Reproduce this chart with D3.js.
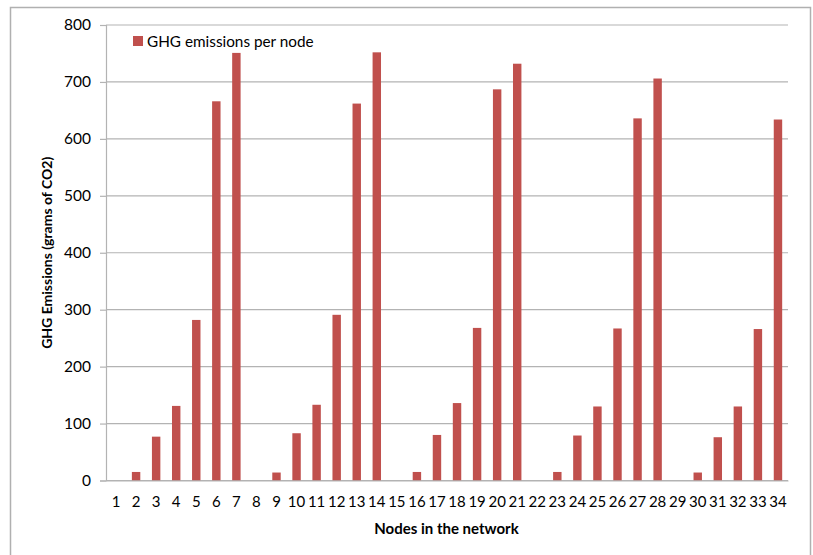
<!DOCTYPE html>
<html>
<head>
<meta charset="utf-8">
<script src="https://cdn.jsdelivr.net/npm/d3@7"></script>
<style>
  html, body { margin: 0; padding: 0; background: #fff; }
  svg { display: block; }
  text { font-family: Lato, "Noto Sans", sans-serif; fill: #000; }
</style>
</head>
<body>
<svg id="chart" width="813" height="555"></svg>
<script>
// GHG emissions for each node (grams of CO2)
const nodes = d3.range(1, 35).map(String);
const emissions = [
  0, 15, 77, 131, 282, 666, 751,
  0, 14, 83, 133, 291, 662, 752,
  0, 15, 80, 136, 268, 687, 732,
  0, 15, 79, 130, 267, 636, 706,
  0, 14, 76, 130, 266, 634
];
const yTicks = [0, 100, 200, 300, 400, 500, 600, 700, 800];
const seriesName = "GHG emissions per node";
const xTitle = "Nodes in the network";
const yTitle = "GHG Emissions (grams of CO2)";

const svg = d3.select("#chart");
const plot = { left: 106, right: 788, top: 25, bottom: 480.5 };
const barColor = "#c0504d";
const gridColor = "#b3b3b3";

// Chart frame
svg.append("rect")
  .attr("x", 10.5).attr("y", 7.5)
  .attr("width", 800).attr("height", 600)
  .attr("fill", "none").attr("stroke", "#b0b0b0").attr("stroke-width", 1.5);

const x = d3.scaleBand().domain(nodes).range([plot.left, plot.right]).paddingInner(0.58).paddingOuter(0.29);
const y = d3.scaleLinear().domain([0, 800]).range([plot.bottom, plot.top]);

// Horizontal gridlines
svg.append("g")
  .selectAll("line")
  .data(yTicks)
  .join("line")
  .attr("x1", plot.left).attr("x2", plot.right)
  .attr("y1", d => y(d)).attr("y2", d => y(d))
  .attr("stroke", gridColor).attr("stroke-width", 1.2);

// Y axis
const yAxis = svg.append("g")
  .attr("transform", `translate(${plot.left},0)`)
  .call(d3.axisLeft(y).tickValues(yTicks).tickSize(6).tickPadding(9));
yAxis.select(".domain").attr("stroke", gridColor).attr("stroke-width", 1.2);
yAxis.selectAll(".tick line").attr("stroke", gridColor).attr("stroke-width", 1.2);
yAxis.selectAll(".tick text").attr("font-size", 15.5).attr("font-family", "Lato, sans-serif").attr("fill", "#000");

// Bars
svg.append("g")
  .selectAll("rect")
  .data(emissions)
  .join("rect")
  .attr("x", (d, i) => x(nodes[i]))
  .attr("width", x.bandwidth())
  .attr("y", d => y(d))
  .attr("height", d => y(0) - y(d))
  .attr("fill", barColor);

// X axis
const xAxis = svg.append("g")
  .attr("transform", `translate(0,${plot.bottom})`)
  .call(d3.axisBottom(x).tickSize(0).tickPadding(16));
xAxis.select(".domain").attr("stroke", gridColor).attr("stroke-width", 1.2);
xAxis.selectAll(".tick text").attr("font-size", 15).attr("font-family", "Lato, sans-serif").attr("fill", "#000");

// Axis titles
svg.append("text")
  .attr("x", (plot.left + plot.right) / 2 - 0.5)
  .attr("y", 534)
  .attr("text-anchor", "middle")
  .attr("font-size", 15).attr("font-weight", "bold")
  .text(xTitle);

svg.append("text")
  .attr("transform", `translate(52,${(plot.top + plot.bottom) / 2}) rotate(-90)`)
  .attr("text-anchor", "middle")
  .attr("font-size", 14).attr("font-weight", "bold")
  .text(yTitle);

// Legend
const legend = svg.append("g").attr("transform", "translate(133,36)");
legend.append("rect").attr("width", 10).attr("height", 10).attr("fill", barColor);
legend.append("text").attr("x", 14).attr("y", 10.5).attr("font-size", 15.3).text(seriesName);
</script>
</body>
</html>
